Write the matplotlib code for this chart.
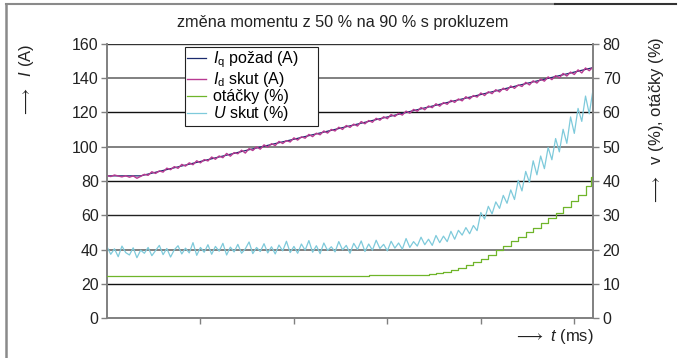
import numpy as np
import matplotlib
matplotlib.use("Agg")
import matplotlib.pyplot as plt
from matplotlib.lines import Line2D

plt.rcParams['font.family'] = ['Liberation Sans', 'DejaVu Sans']
plt.rcParams['mathtext.fontset'] = 'custom'
plt.rcParams['mathtext.rm'] = 'Liberation Sans'
plt.rcParams['mathtext.it'] = 'Liberation Sans:italic'
plt.rcParams['mathtext.fallback'] = 'stixsans'

# --- data ---
titulek = "změna momentu z 50 % na 90 % s prokluzem"

# I_q pozad (A) - smooth reference
iq_t = [0, 36, 100, 150, 200, 250, 300, 350, 400, 450, 500, 520]
iq_pozad = [83.0, 83.0, 91.4, 98.0, 104.4, 110.9, 117.4, 124.0, 130.5, 137.1, 143.6, 146.2]

# I_d skut (A) - measured, sampled every 4 ms from 0 to 520
id_skut = [
    83.2, 82.6, 83.5, 82.9, 82.4, 83.1, 82.2, 83.0, 81.6, 82.7,
    83.9, 83.3, 85.4, 84.4, 85.9, 85.2, 87.5, 86.6, 88.4, 87.4,
    89.7, 88.7, 90.6, 89.5, 91.8, 90.6, 92.5, 91.7, 94.0, 92.7,
    94.6, 93.6, 96.1, 94.5, 96.6, 95.9, 98.0, 96.3, 98.9, 97.8,
    99.9, 98.6, 101.1, 99.8, 101.8, 100.7, 103.1, 101.9, 103.6, 102.8,
    105.2, 103.9, 105.8, 105.0, 107.2, 105.9, 107.9, 107.0, 109.2, 108.0,
    110.1, 109.2, 111.4, 110.1, 112.4, 111.3, 113.2, 112.1, 114.7, 113.4,
    115.3, 114.3, 116.6, 115.5, 117.5, 116.4, 118.8, 117.7, 119.5, 118.5,
    120.8, 119.6, 121.8, 120.7, 122.9, 121.6, 123.8, 122.8, 125.1, 123.7,
    125.8, 124.8, 127.1, 125.9, 127.9, 126.8, 129.2, 127.9, 129.9, 129.0,
    131.4, 129.9, 132.1, 131.0, 133.3, 132.0, 134.2, 132.9, 135.5, 134.1,
    136.1, 135.2, 137.6, 136.1, 138.5, 137.2, 139.5, 138.3, 140.8, 139.2,
    141.5, 140.2, 142.8, 141.3, 143.6, 142.2, 144.9, 143.1, 146.0, 144.4,
    146.5,
]

# U skut (%) - measured, sampled every 4 ms from 0 to 520
u_skut = [
    20.8, 18.6, 20.2, 17.9, 21.0, 19.1, 18.4, 20.5, 17.6, 19.8,
    18.9, 20.6, 18.2, 19.7, 21.2, 18.5, 20.3, 17.8, 19.9, 21.1,
    18.7, 20.4, 19.0, 22.0, 18.3, 20.6, 19.2, 21.4, 18.6, 20.9,
    19.5, 21.8, 18.4, 20.7, 19.3, 21.5, 18.9, 20.2, 22.2, 18.8,
    20.6, 19.4, 21.7, 19.0, 20.8, 18.7, 21.3, 19.6, 22.4, 19.1,
    20.9, 18.9, 21.6, 19.8, 22.6, 19.2, 21.1, 18.8, 21.9, 19.7,
    20.8, 19.3, 22.3, 19.9, 21.2, 18.9, 21.8, 20.0, 22.5, 19.4,
    21.6, 19.8, 22.7, 20.3, 21.5, 19.6, 22.4, 20.4, 21.9, 20.1,
    23.2, 20.6, 22.3, 21.0, 23.6, 21.4, 23.0, 21.2, 24.1, 22.0,
    23.9, 22.3, 25.3, 23.0, 25.6, 24.2, 26.4, 24.6, 27.0, 25.5,
    30.8, 28.9, 32.6, 30.4, 33.9, 32.0, 35.8, 33.5, 37.4, 34.6,
    40.2, 37.1, 42.8, 39.6, 45.9, 41.8, 47.3, 43.6, 49.8, 46.2,
    52.4, 48.5, 55.1, 51.0, 58.7, 53.9, 61.2, 57.4, 64.8, 59.6,
    66.6,
]

# otacky (%) - stepped speed signal
ot_t = [0, 40, 80, 120, 160, 200, 240, 280, 320, 344, 352, 360, 368, 376,
        384, 392, 400, 408, 416, 424, 432, 440, 448, 456, 464, 472, 480,
        488, 496, 504, 512, 518, 520]
otacky = [12.4, 12.4, 12.4, 12.4, 12.4, 12.4, 12.4, 12.5, 12.5, 12.8, 13.1,
          13.5, 14.0, 14.6, 15.4, 16.3, 17.3, 18.5, 19.9, 21.1, 22.4, 23.7,
          25.0, 26.4, 27.8, 29.3, 30.8, 32.4, 34.1, 35.9, 38.6, 41.3, 41.3]

t_meas = np.linspace(0, 520, len(id_skut))
t_u = np.linspace(0, 520, len(u_skut))

fig = plt.figure(figsize=(6.78, 3.58), dpi=100)
ax = fig.add_axes([107/678, 1-318/358, (593-107)/678, (318-44)/358])
ax2 = ax.twinx()

ax.set_xlim(0, 520)
ax.set_ylim(0, 160)
ax2.set_ylim(0, 80)
ax.set_xticks([100, 200, 300, 400, 500])
ax.set_xticklabels([])
ax.set_yticks(range(0, 161, 20))
ax2.set_yticks(range(0, 81, 10))

# horizontal grid, mixed grey / black like the original
grid_cols = {20: '#111111', 40: '#808080', 60: '#222222', 80: '#111111',
             100: '#808080', 120: '#111111', 140: '#808080', 160: '#333333'}
for yv, c in grid_cols.items():
    ax.axhline(yv, color=c, lw=1.4 if c == '#808080' else 1.0, zorder=0)

for a in (ax, ax2):
    for s in a.spines.values():
        s.set_color('#808080')
        s.set_linewidth(1.2)
    a.spines['top'].set_visible(False)
    a.tick_params(colors='#808080', labelcolor='#222222', labelsize=11.5,
                  length=4, width=1.0, direction='out', pad=3)
ax.tick_params(axis='y', pad=2)

l1, = ax.plot(iq_t, iq_pozad, color='#1b2b6e', lw=0.9, zorder=2)
l2, = ax.plot(t_meas, id_skut, color='#b83a92', lw=1.0, zorder=3)
l4, = ax2.plot(t_u, u_skut, color='#7ecadb', lw=0.9, zorder=2)
l3, = ax2.plot(ot_t, otacky, color='#6fb52a', lw=0.9, drawstyle='steps-post', zorder=3)
ax2.set_zorder(ax.get_zorder() + 1)
ax2.patch.set_visible(False)

leg = ax2.legend([l1, l2, l3, l4],
                 [r"$I_\mathrm{q}$ požad (A)", r"$I_\mathrm{d}$ skut (A)",
                  "otáčky (%)", r"$U$ skut (%)"],
                 loc='upper left', bbox_to_anchor=(0.16, 0.4, 0.274, 0.588),
                 mode='expand', borderaxespad=0, fontsize=11.5, handlelength=1.2,
                 handletextpad=0.4, labelspacing=0.0, borderpad=0.15,
                 fancybox=False, framealpha=1)
leg.get_frame().set_edgecolor('#222222')
leg.get_frame().set_linewidth(0.8)

fig.text(343/678, 1-22/358, titulek, ha='center', va='center', fontsize=11.7,
         color='#222222')
fig.text(27/678, 1-44/358, r"$\longrightarrow$  $I$ (A)", rotation=90,
         ha='center', va='top', fontsize=12, color='#222222')
fig.text(656/678, 1-37/358, r"$\longrightarrow$  v (%), otáčky (%)", rotation=90,
         ha='center', va='top', fontsize=12, color='#222222')
fig.text(594/678, 1-336/358, r"$\longrightarrow$ $t$ (ms)", ha='right',
         va='center', fontsize=12, color='#222222')

# outer frame of the figure
fig.add_artist(Line2D([6/678, 6/678], [0, 1-4/358], transform=fig.transFigure,
                      color='#8a8a8a', lw=1.8))
fig.add_artist(Line2D([6/678, 555/678], [1-4/358, 1-4/358], transform=fig.transFigure,
                      color='#8a8a8a', lw=1.5))
fig.add_artist(Line2D([555/678, 676/678], [1-4/358, 1-4/358], transform=fig.transFigure,
                      color='#333333', lw=1.5))

fig.savefig('out.png', dpi=100)
